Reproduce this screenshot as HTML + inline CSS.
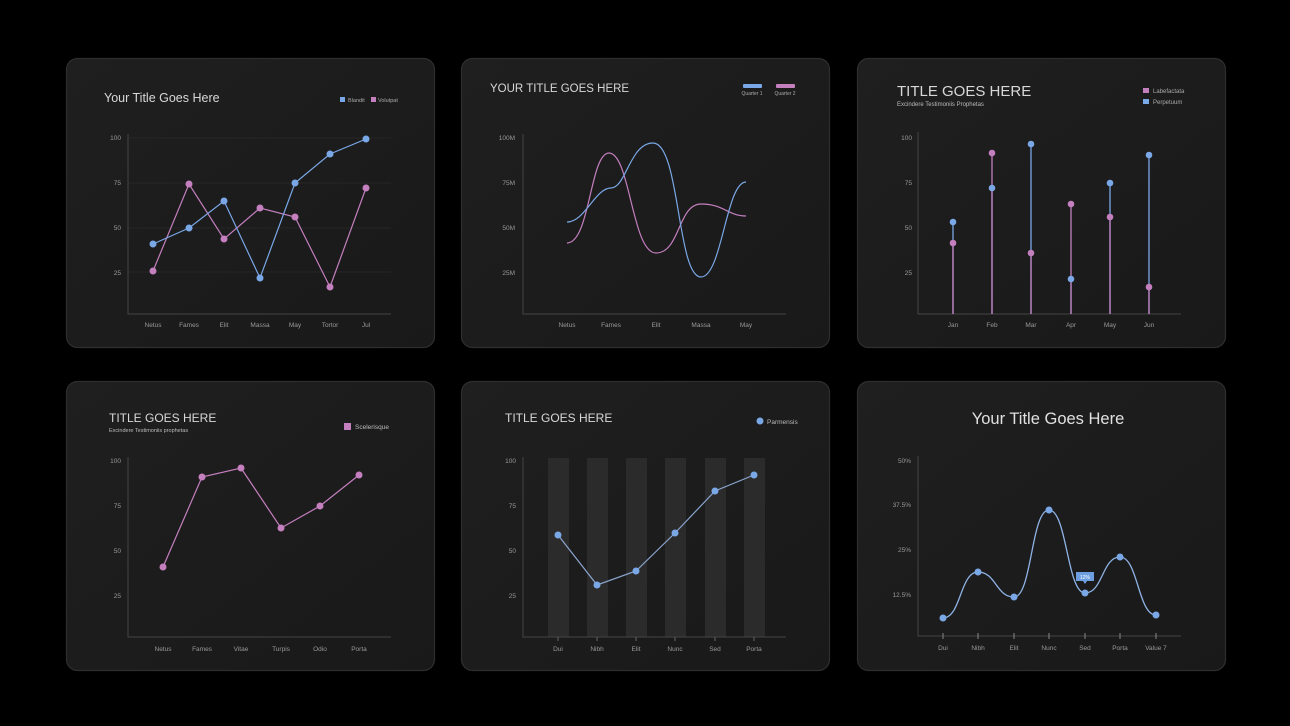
<!DOCTYPE html>
<html><head><meta charset="utf-8"><style>
html,body{margin:0;padding:0;background:#000;width:1290px;height:726px;overflow:hidden}
svg{display:block;font-family:"Liberation Sans",sans-serif}
</style></head><body>
<svg width="1290" height="726" viewBox="0 0 1290 726">
<defs>
<linearGradient id="pg" x1="0" y1="0" x2="1" y2="1"><stop offset="0" stop-color="#1f1f1f"/><stop offset="1" stop-color="#191919"/></linearGradient>
</defs>
<rect width="1290" height="726" fill="#000"/>
<g fill="url(#pg)" stroke="#2e2e2e" stroke-width="1.2">
<rect x="66.5" y="58.5" width="368" height="289" rx="11"/>
<rect x="461.5" y="58.5" width="368" height="289" rx="11"/>
<rect x="857.5" y="58.5" width="368" height="289" rx="11"/>
<rect x="66.5" y="381.5" width="368" height="289" rx="11"/>
<rect x="461.5" y="381.5" width="368" height="289" rx="11"/>
<rect x="857.5" y="381.5" width="368" height="289" rx="11"/>
</g>

<!-- Panel 1 -->
<text x="104" y="102" font-size="12.5" fill="#d8d8d8">Your Title Goes Here</text>
<rect x="340" y="97" width="5" height="5" fill="#7aa7e6"/><text x="348" y="102" font-size="5.5" fill="#aaa">Blandit</text>
<rect x="371" y="97" width="5" height="5" fill="#c47fbf"/><text x="378" y="102" font-size="5.5" fill="#aaa">Volutpat</text>
<g stroke="#2a2a2a" stroke-width="0.8"><line x1="128" y1="138" x2="391" y2="138"/><line x1="128" y1="183" x2="391" y2="183"/><line x1="128" y1="228" x2="391" y2="228"/><line x1="128" y1="272" x2="391" y2="272"/></g>
<path d="M128,134V314H391" fill="none" stroke="#444" stroke-width="1"/>
<g font-size="6.5" fill="#999" text-anchor="end"><text x="121" y="140">100</text><text x="121" y="185">75</text><text x="121" y="230">50</text><text x="121" y="275">25</text></g>
<g font-size="6.5" fill="#999" text-anchor="middle"><text x="153" y="327">Netus</text><text x="189" y="327">Fames</text><text x="224" y="327">Elit</text><text x="260" y="327">Massa</text><text x="295" y="327">May</text><text x="330" y="327">Tortor</text><text x="366" y="327">Jul</text></g>
<polyline points="153,271 189,184 224,239 260,208 295,217 330,287 366,188" fill="none" stroke="#c47fbf" stroke-width="1.2"/>
<polyline points="153,244 189,228 224,201 260,278 295,183 330,154 366,139" fill="none" stroke="#7aa7e6" stroke-width="1.2"/>
<g fill="#c47fbf"><circle cx="153" cy="271" r="3.5"/><circle cx="189" cy="184" r="3.5"/><circle cx="224" cy="239" r="3.5"/><circle cx="260" cy="208" r="3.5"/><circle cx="295" cy="217" r="3.5"/><circle cx="330" cy="287" r="3.5"/><circle cx="366" cy="188" r="3.5"/></g>
<g fill="#7aa7e6"><circle cx="153" cy="244" r="3.5"/><circle cx="189" cy="228" r="3.5"/><circle cx="224" cy="201" r="3.5"/><circle cx="260" cy="278" r="3.5"/><circle cx="295" cy="183" r="3.5"/><circle cx="330" cy="154" r="3.5"/><circle cx="366" cy="139" r="3.5"/></g>

<!-- Panel 2 -->
<text x="490" y="92" font-size="11.5" fill="#d8d8d8">YOUR TITLE GOES HERE</text>
<rect x="743" y="84" width="19" height="4" rx="1" fill="#7aa7e6"/><text x="752" y="95" font-size="5" fill="#aaa" text-anchor="middle">Quarter 1</text>
<rect x="776" y="84" width="19" height="4" rx="1" fill="#c47fbf"/><text x="785" y="95" font-size="5" fill="#aaa" text-anchor="middle">Quarter 2</text>
<path d="M523,134V314H786" fill="none" stroke="#444" stroke-width="1"/>
<g font-size="6.5" fill="#999" text-anchor="end"><text x="515" y="140">100M</text><text x="515" y="185">75M</text><text x="515" y="230">50M</text><text x="515" y="275">25M</text></g>
<g font-size="6.5" fill="#999" text-anchor="middle"><text x="567" y="327">Netus</text><text x="611" y="327">Fames</text><text x="656" y="327">Elit</text><text x="701" y="327">Massa</text><text x="746" y="327">May</text></g>
<path d="M567,243 C590,243 590,153 609,153 C630,153 632,253 656,253 C680,253 678,204 701,204 C724,204 728,216 746,216" fill="none" stroke="#c47fbf" stroke-width="1.2"/>
<path d="M567,222 C585,222 595,188 611,188 C626,188 630,143 653,143 C680,143 677,277 701,277 C722,277 726,182 746,182" fill="none" stroke="#7aa7e6" stroke-width="1.2"/>

<!-- Panel 3 -->
<text x="897" y="96" font-size="15" fill="#d8d8d8">TITLE GOES HERE</text>
<text x="897" y="106" font-size="6" fill="#bbb">Excindere Testimoniis Prophetas</text>
<rect x="1143" y="88" width="6" height="5" fill="#c47fbf"/><text x="1153" y="93" font-size="6" fill="#aaa">Labefactata</text>
<rect x="1143" y="99" width="6" height="5" fill="#7aa7e6"/><text x="1153" y="104" font-size="6" fill="#aaa">Perpetuum</text>
<path d="M918,132V314H1181" fill="none" stroke="#444" stroke-width="1"/>
<g font-size="6.5" fill="#999" text-anchor="end"><text x="912" y="140">100</text><text x="912" y="185">75</text><text x="912" y="230">50</text><text x="912" y="275">25</text></g>
<g font-size="6.5" fill="#999" text-anchor="middle"><text x="953" y="327">Jan</text><text x="992" y="327">Feb</text><text x="1031" y="327">Mar</text><text x="1071" y="327">Apr</text><text x="1110" y="327">May</text><text x="1149" y="327">Jun</text></g>
<g stroke="#7aa7e6" stroke-width="1.3"><line x1="953" y1="314" x2="953" y2="222"/><line x1="992" y1="314" x2="992" y2="188"/><line x1="1031" y1="314" x2="1031" y2="144"/><line x1="1071" y1="314" x2="1071" y2="279"/><line x1="1110" y1="314" x2="1110" y2="183"/><line x1="1149" y1="314" x2="1149" y2="155"/></g>
<g stroke="#c47fbf" stroke-width="1.3"><line x1="953" y1="314" x2="953" y2="243"/><line x1="992" y1="314" x2="992" y2="153"/><line x1="1031" y1="314" x2="1031" y2="253"/><line x1="1071" y1="314" x2="1071" y2="204"/><line x1="1110" y1="314" x2="1110" y2="217"/><line x1="1149" y1="314" x2="1149" y2="287"/></g>
<g fill="#7aa7e6"><circle cx="953" cy="222" r="3.3"/><circle cx="992" cy="188" r="3.3"/><circle cx="1031" cy="144" r="3.3"/><circle cx="1071" cy="279" r="3.3"/><circle cx="1110" cy="183" r="3.3"/><circle cx="1149" cy="155" r="3.3"/></g>
<g fill="#c47fbf"><circle cx="953" cy="243" r="3.3"/><circle cx="992" cy="153" r="3.3"/><circle cx="1031" cy="253" r="3.3"/><circle cx="1071" cy="204" r="3.3"/><circle cx="1110" cy="217" r="3.3"/><circle cx="1149" cy="287" r="3.3"/></g>

<!-- Panel 4 -->
<text x="109" y="422" font-size="12" fill="#d8d8d8">TITLE GOES HERE</text>
<text x="109" y="432" font-size="5.5" fill="#bbb">Excindere Testimoniis prophetas</text>
<rect x="344" y="423" width="7" height="7" fill="#c47fbf"/><text x="355" y="429" font-size="6.5" fill="#bbb">Scelerisque</text>
<path d="M128,457V637H391" fill="none" stroke="#444" stroke-width="1"/>
<g font-size="6.5" fill="#999" text-anchor="end"><text x="121" y="463">100</text><text x="121" y="508">75</text><text x="121" y="553">50</text><text x="121" y="598">25</text></g>
<g font-size="6.5" fill="#999" text-anchor="middle"><text x="163" y="651">Netus</text><text x="202" y="651">Fames</text><text x="241" y="651">Vitae</text><text x="281" y="651">Turpis</text><text x="320" y="651">Odio</text><text x="359" y="651">Porta</text></g>
<polyline points="163,567 202,477 241,468 281,528 320,506 359,475" fill="none" stroke="#c47fbf" stroke-width="1.2"/>
<g fill="#c47fbf"><circle cx="163" cy="567" r="3.5"/><circle cx="202" cy="477" r="3.5"/><circle cx="241" cy="468" r="3.5"/><circle cx="281" cy="528" r="3.5"/><circle cx="320" cy="506" r="3.5"/><circle cx="359" cy="475" r="3.5"/></g>

<!-- Panel 5 -->
<text x="505" y="422" font-size="12" fill="#d8d8d8">TITLE GOES HERE</text>
<circle cx="760" cy="421" r="3.5" fill="#7aa7e6"/><text x="767" y="424" font-size="6.5" fill="#bbb">Parmensis</text>
<g fill="#2b2b2b"><rect x="548" y="458" width="21" height="179"/><rect x="587" y="458" width="21" height="179"/><rect x="626" y="458" width="21" height="179"/><rect x="665" y="458" width="21" height="179"/><rect x="705" y="458" width="21" height="179"/><rect x="744" y="458" width="21" height="179"/></g>
<path d="M523,457V637H786" fill="none" stroke="#444" stroke-width="1"/>
<g stroke="#666"><line x1="558" y1="637" x2="558" y2="641"/><line x1="597" y1="637" x2="597" y2="641"/><line x1="636" y1="637" x2="636" y2="641"/><line x1="675" y1="637" x2="675" y2="641"/><line x1="715" y1="637" x2="715" y2="641"/><line x1="754" y1="637" x2="754" y2="641"/></g>
<g font-size="6.5" fill="#999" text-anchor="end"><text x="516" y="463">100</text><text x="516" y="508">75</text><text x="516" y="553">50</text><text x="516" y="598">25</text></g>
<g font-size="6.5" fill="#999" text-anchor="middle"><text x="558" y="651">Dui</text><text x="597" y="651">Nibh</text><text x="636" y="651">Elit</text><text x="675" y="651">Nunc</text><text x="715" y="651">Sed</text><text x="754" y="651">Porta</text></g>
<polyline points="558,535 597,585 636,571 675,533 715,491 754,475" fill="none" stroke="#8aa6cf" stroke-width="1.2"/>
<g fill="#7aa7e6"><circle cx="558" cy="535" r="3.5"/><circle cx="597" cy="585" r="3.5"/><circle cx="636" cy="571" r="3.5"/><circle cx="675" cy="533" r="3.5"/><circle cx="715" cy="491" r="3.5"/><circle cx="754" cy="475" r="3.5"/></g>

<!-- Panel 6 -->
<text x="1048" y="424" font-size="16.5" fill="#e0e0e0" text-anchor="middle">Your Title Goes Here</text>
<path d="M918,456V636H1181" fill="none" stroke="#444" stroke-width="1"/>
<g stroke="#888"><line x1="943" y1="633" x2="943" y2="639"/><line x1="978" y1="633" x2="978" y2="639"/><line x1="1014" y1="633" x2="1014" y2="639"/><line x1="1049" y1="633" x2="1049" y2="639"/><line x1="1085" y1="633" x2="1085" y2="639"/><line x1="1120" y1="633" x2="1120" y2="639"/><line x1="1156" y1="633" x2="1156" y2="639"/></g>
<g font-size="6.5" fill="#999" text-anchor="end"><text x="911" y="463">50%</text><text x="911" y="507">37.5%</text><text x="911" y="552">25%</text><text x="911" y="597">12.5%</text></g>
<g font-size="6.5" fill="#999" text-anchor="middle"><text x="943" y="650">Dui</text><text x="978" y="650">Nibh</text><text x="1014" y="650">Elit</text><text x="1049" y="650">Nunc</text><text x="1085" y="650">Sed</text><text x="1120" y="650">Porta</text><text x="1156" y="650">Value 7</text></g>
<path d="M943,618 C961,618 960,572 978,572 C996,572 996,597 1014,597 C1032,597 1031,510 1049,510 C1067,510 1067,593 1085,593 C1103,593 1102,557 1120,557 C1138,557 1138,615 1156,615" fill="none" stroke="#8fb3e6" stroke-width="1.3"/>
<g fill="#7aa7e6"><circle cx="943" cy="618" r="3.5"/><circle cx="978" cy="572" r="3.5"/><circle cx="1014" cy="597" r="3.5"/><circle cx="1049" cy="510" r="3.5"/><circle cx="1085" cy="593" r="3.5"/><circle cx="1120" cy="557" r="3.5"/><circle cx="1156" cy="615" r="3.5"/></g>
<rect x="1076" y="572" width="18" height="9" fill="#6d9fe0"/><path d="M1083,581 L1085,584 L1087,581Z" fill="#6d9fe0"/>
<text x="1085" y="579" font-size="5" fill="#fff" text-anchor="middle">12%</text>
</svg>
</body></html>
